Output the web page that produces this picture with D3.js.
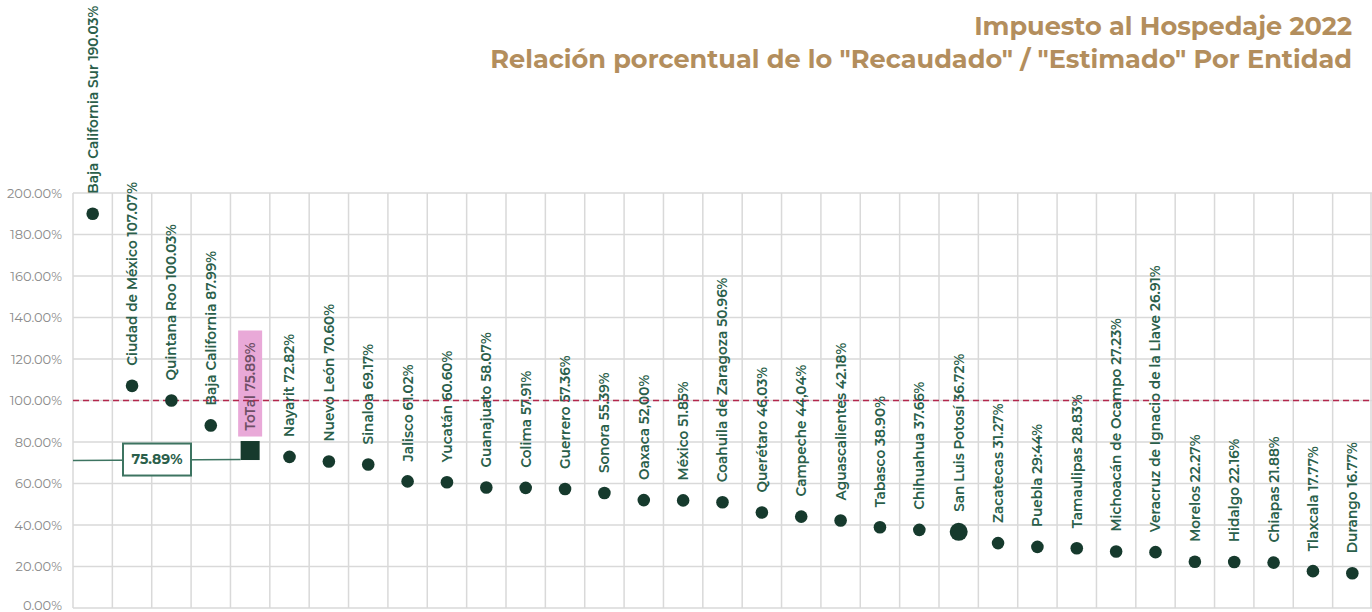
<!DOCTYPE html>
<html><head><meta charset="utf-8">
<script src="https://cdn.jsdelivr.net/npm/d3@7"></script>
<style>
body{margin:0;background:#fff;}
svg{display:block;}
</style></head>
<body><svg id="c" width="1372" height="612"></svg>
<script>
const categories = ["Baja California Sur","Ciudad de México","Quintana Roo","Baja California","ToTal","Nayarit","Nuevo León","Sinaloa","Jalisco","Yucatán","Guanajuato","Colima","Guerrero","Sonora","Oaxaca","México","Coahuila de Zaragoza","Querétaro","Campeche","Aguascalientes","Tabasco","Chihuahua","San Luis Potosí","Zacatecas","Puebla","Tamaulipas","Michoacán de Ocampo","Veracruz de Ignacio de la Llave","Morelos","Hidalgo","Chiapas","Tlaxcala","Durango"];
const values = [190.03,107.07,100.03,87.99,75.89,72.82,70.60,69.17,61.02,60.60,58.07,57.91,57.36,55.39,52.00,51.85,50.96,46.03,44.04,42.18,38.90,37.66,36.72,31.27,29.44,28.83,27.23,26.91,22.27,22.16,21.88,17.77,16.77];
const valueLabels = ["190.03%","107.07%","100.03%","87.99%","75.89%","72.82%","70.60%","69.17%","61.02%","60.60%","58.07%","57.91%","57.36%","55.39%","52,00%","51.85%","50.96%","46.03%","44,04%","42.18%","38.90%","37.66%","36.72%","31.27%","29:44%","28.83%","27.23%","26.91%","22.27%","22.16%","21.88%","17.77%","16.77%"];
const yTicks = [0,20,40,60,80,100,120,140,160,180,200];
const referenceValue = 100;
const totalName = "ToTal";
const highlightName = "San Luis Potosí";
const titleLines = ["Impuesto al Hospedaje 2022","Relación porcentual de lo \"Recaudado\" / \"Estimado\" Por Entidad"];

const svg = d3.select("#c");
const font = "Montserrat, 'Open Sans', sans-serif";
const L = 73, R = 1372, T = 193, B = 608;
const x = d3.scaleBand().domain(categories).range([L, R]).padding(0);
const y = d3.scaleLinear().domain([0, 200]).range([B, T]);
const data = categories.map((c, i) => ({c, v: values[i], lab: valueLabels[i]}));

// grid
const g = svg.append("g");
g.selectAll("line.h").data(yTicks).join("line")
  .attr("x1", L).attr("x2", R).attr("y1", d => y(d)).attr("y2", d => y(d))
  .attr("stroke", "#d9d9d9").attr("stroke-width", 1.5);
const vlines = categories.map(c => x(c)).concat([R - 1]);
g.selectAll("line.v").data(vlines).join("line")
  .attr("x1", d => d).attr("x2", d => d).attr("y1", T).attr("y2", B)
  .attr("stroke", "#d9d9d9").attr("stroke-width", 1.5);

// y axis
const yAxis = d3.axisLeft(y).tickValues(yTicks).tickSize(0).tickPadding(11)
  .tickFormat(d => d.toFixed(2) + "%");
const ya = svg.append("g").attr("transform", `translate(${L},0)`).call(yAxis);
ya.select(".domain").remove();
ya.selectAll("text").attr("font-family", font).attr("font-size", 13)
  .attr("fill", "#8a8a8a");
ya.selectAll("text").filter(d => d === 0).attr("dy", "0.1em");

// title
svg.append("g").selectAll("text").data(titleLines).join("text")
  .attr("x", 1352).attr("y", (d, i) => 35 + i * 33)
  .attr("text-anchor", "end").attr("font-family", font).attr("font-weight", 700)
  .attr("font-size", 25.6).attr("fill", "#b38e5d").text(d => d);

const cx = d => x(d.c) + x.bandwidth() / 2;
const total = data.find(d => d.c === totalName);

const gap = 20;
const lbl = svg.append("g");
const labels = lbl.selectAll("text").data(data).join("text")
  .attr("transform", d => `translate(${cx(d)},${y(d.v) - gap}) rotate(-90)`)
  .attr("dy", "0.36em")
  .attr("font-family", font).attr("font-weight", 600).attr("font-size", 13.7)
  .attr("fill", d => d.c === totalName ? "#6e4f66" : "#2b5f4b")
  .text(d => d.c + " " + d.lab);
const tnode = labels.filter(d => d.c === totalName).node();
const tw = tnode.getComputedTextLength();
lbl.insert("rect", "text")
  .attr("x", cx(total) - 12).attr("width", 24)
  .attr("y", y(total.v) - gap - tw - 12).attr("height", tw + 18)
  .attr("fill", "#e9a9d8");

// dashed reference
svg.append("line").attr("x1", L).attr("x2", R)
  .attr("y1", y(referenceValue)).attr("y2", y(referenceValue))
  .attr("stroke", "#b3264c").attr("stroke-width", 1.5).attr("stroke-dasharray", "6,4");

// dots
svg.append("g").selectAll("circle").data(data.filter(d => d.c !== totalName)).join("circle")
  .attr("cx", cx).attr("cy", d => y(d.v))
  .attr("r", d => d.c === highlightName ? 9 : 6.3)
  .attr("fill", "#163a2d");

// total square
const sq = 19;
svg.append("rect").attr("x", cx(total) - sq / 2).attr("y", y(total.v) - sq / 2)
  .attr("width", sq).attr("height", sq).attr("fill", "#163a2d");

// callout
const ly = y(total.v) + 9;
svg.append("line").attr("x1", L).attr("x2", cx(total) - sq / 2)
  .attr("y1", ly + 1).attr("y2", ly)
  .attr("stroke", "#3d7461").attr("stroke-width", 1.5);
const bx = 123, bw = 68, bh = 32;
svg.append("rect").attr("x", bx).attr("y", ly - bh / 2).attr("width", bw).attr("height", bh)
  .attr("fill", "#fff").attr("stroke", "#3d7461").attr("stroke-width", 2);
svg.append("text").attr("x", bx + bw / 2).attr("y", ly).attr("dy", "0.35em")
  .attr("text-anchor", "middle").attr("font-family", font).attr("font-weight", 700)
  .attr("font-size", 14).attr("fill", "#2b5f4b").text(total.lab);
</script></body></html>
